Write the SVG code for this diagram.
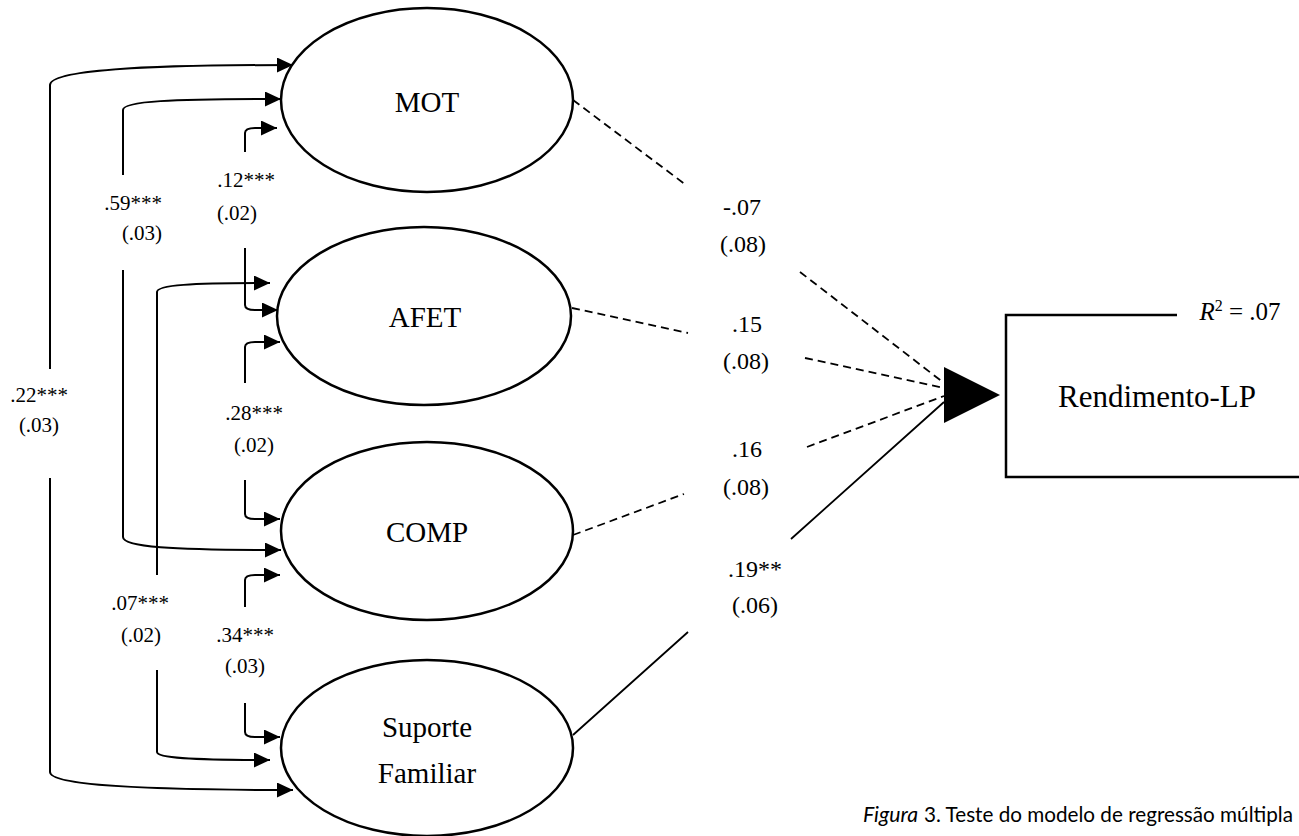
<svg xmlns="http://www.w3.org/2000/svg" width="1299" height="836" viewBox="0 0 1299 836">
<style>
.node{fill:#fff;stroke:#000;stroke-width:2.5}
.lbl{font-family:"Liberation Serif","Times New Roman",serif;fill:#000;text-anchor:middle}
.big{font-size:29px}
.coef{font-size:21px}
.mid{font-size:24px}
.c{fill:none;stroke:#000;stroke-width:2}
.d{fill:none;stroke:#000;stroke-width:1.8;stroke-dasharray:8 5}
.s{fill:none;stroke:#000;stroke-width:1.8}
.cap{font-family:Lato,"Open Sans",sans-serif;font-size:21px;fill:#000}
</style>
<defs>
<marker id="ah" markerUnits="userSpaceOnUse" markerWidth="16" markerHeight="15" refX="16" refY="7.5" orient="auto">
<path d="M0,0 L16,7.5 L0,15 z" fill="#000"/>
</marker>
</defs>
<rect width="1299" height="836" fill="#fff"/>
<g id="connectors">
<path class="c" marker-end="url(#ah)" d="M50,369 V85 C50,70 140,65 293,65"/>
<path class="c" marker-end="url(#ah)" d="M50,478 V772 C50,785 140,790 293,790"/>
<path class="c" marker-end="url(#ah)" d="M123,175 V110 C123,101 170,99 281,99"/>
<path class="c" marker-end="url(#ah)" d="M123,270 V537 C123,547 170,550 281,550"/>
<path class="c" marker-end="url(#ah)" d="M157,575 V292 C157,285 190,283 270,283"/>
<path class="c" marker-end="url(#ah)" d="M157,670 V752 C157,758 190,760 270,760"/>
<path class="c" marker-end="url(#ah)" d="M245,152 V133 Q245,128 255,128 L277,128"/>
<path class="c" marker-end="url(#ah)" d="M245,248 V305 Q245,310 255,310 L278,310"/>
<path class="c" marker-end="url(#ah)" d="M245,383 V347 Q245,342 255,342 L280,342"/>
<path class="c" marker-end="url(#ah)" d="M245,480 V514 Q245,519 255,519 L280,519"/>
<path class="c" marker-end="url(#ah)" d="M245,607 V580 Q245,575 255,575 L280,575"/>
<path class="c" marker-end="url(#ah)" d="M245,703 V732 Q245,737 255,737 L280,737"/>
<path class="d" d="M573,100 L686,185 M800,272 L944,383"/>
<path class="d" d="M572,308 L688,333 M805,358 L944,388"/>
<path class="d" d="M573,535 L684,494 M807,447 L944,396"/>
<path class="s" d="M573,735 L688,632 M791,539 L944,402"/>
<polygon points="944,367 1000,395 944,423" fill="#000"/>
</g>
<g id="labels">
<text class="lbl coef" x="133" y="210">.59***</text>
<text class="lbl coef" x="142" y="240">(.03)</text>
<text class="lbl coef" x="246" y="187">.12***</text>
<text class="lbl coef" x="237" y="220">(.02)</text>
<text class="lbl coef" x="39" y="402">.22***</text>
<text class="lbl coef" x="39" y="432">(.03)</text>
<text class="lbl coef" x="254" y="420">.28***</text>
<text class="lbl coef" x="254" y="452">(.02)</text>
<text class="lbl coef" x="140" y="610">.07***</text>
<text class="lbl coef" x="141" y="642">(.02)</text>
<text class="lbl coef" x="245" y="642">.34***</text>
<text class="lbl coef" x="245" y="673">(.03)</text>
<text class="lbl mid" x="742" y="215">-.07</text>
<text class="lbl mid" x="743" y="252">(.08)</text>
<text class="lbl mid" x="747" y="332">.15</text>
<text class="lbl mid" x="746" y="369">(.08)</text>
<text class="lbl mid" x="747" y="457">.16</text>
<text class="lbl mid" x="746" y="495">(.08)</text>
<text class="lbl mid" x="755" y="577">.19**</text>
<text class="lbl mid" x="755" y="613">(.06)</text>
</g>
<g id="MOT">
<ellipse class="node" cx="427" cy="100" rx="146" ry="92"/>
<text class="lbl big" x="427" y="112">MOT</text>
</g>
<g id="AFET">
<ellipse class="node" cx="424" cy="316" rx="147" ry="89"/>
<text class="lbl big" x="425" y="327">AFET</text>
</g>
<g id="COMP">
<ellipse class="node" cx="427" cy="531" rx="146" ry="89"/>
<text class="lbl big" x="427" y="542">COMP</text>
</g>
<g id="SuporteFamiliar">
<ellipse class="node" cx="427" cy="748" rx="146" ry="88"/>
<text class="lbl big" x="427" y="737">Suporte</text>
<text class="lbl big" x="427" y="783">Familiar</text>
</g>
<g id="RendimentoLP">
<path d="M1177,315 H1006 V477 H1302" fill="none" stroke="#000" stroke-width="2.5"/>
<text class="lbl" font-size="31" x="1157" y="407">Rendimento-LP</text>
<text class="lbl" font-size="25" x="1240" y="320"><tspan font-style="italic">R</tspan><tspan font-size="16" dy="-9">2</tspan><tspan dy="9"> = .07</tspan></text>
</g>
<g id="caption">
<text class="cap" x="863" y="822" font-style="italic" textLength="55" lengthAdjust="spacingAndGlyphs">Figura</text>
<text class="cap" x="924" y="822" textLength="369" lengthAdjust="spacingAndGlyphs">3. Teste do modelo de regressão múltipla</text>
</g>
</svg>
